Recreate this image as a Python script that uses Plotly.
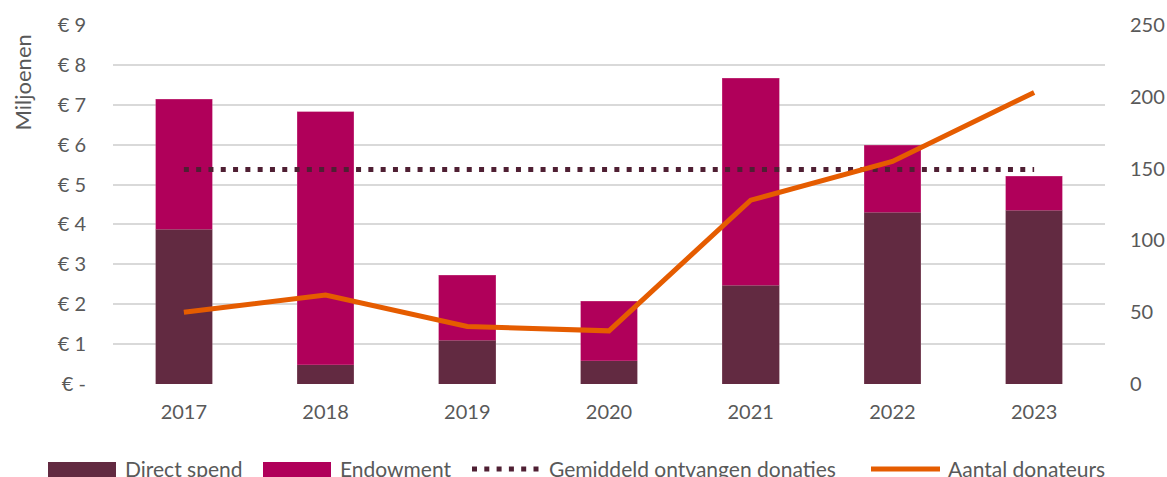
import plotly.graph_objects as go

years = ["2017", "2018", "2019", "2020", "2021", "2022", "2023"]
direct_spend = [3.88, 0.48, 1.10, 0.58, 2.48, 4.31, 4.36]
endowment = [3.26, 6.34, 1.63, 1.50, 5.19, 1.68, 0.85]
gemiddeld = [5.38, 5.38, 5.38, 5.38, 5.38, 5.38, 5.38]
aantal_donateurs = [50, 62, 40, 37, 128, 155, 203]

left_vals = [0, 1, 2, 3, 4, 5, 6, 7, 8, 9]
left_text = ["€ -", "€ 1", "€ 2", "€ 3", "€ 4", "€ 5", "€ 6", "€ 7", "€ 8", "€ 9"]
right_vals = [0, 50, 100, 150, 200, 250]

FONT = "Lato, 'Open Sans', sans-serif"
GREY = "#595959"
C_DIRECT = "#622a41"
C_ENDOW = "#b0005a"
C_AVG = "#4f1f33"
C_ORANGE = "#e55c00"
DOTS = "5px,7.3px"

W, H = 1167, 477
ML, MR, MT, MB = 113, 62, 25, 93
PW, PH = W - ML - MR, H - MT - MB


def px(x):
    # pixel x -> paper coordinate
    return (x - ML) / PW


def py(y):
    # pixel y -> paper coordinate
    return (H - MB - y) / PH


fig = go.Figure()
fig.add_trace(go.Bar(x=years, y=direct_spend, name="Direct spend",
                     marker=dict(color=C_DIRECT, line=dict(color="#8a5a6c", width=0.5))))
fig.add_trace(go.Bar(x=years, y=endowment, name="Endowment",
                     marker=dict(color=C_ENDOW, line=dict(color="#c84a88", width=0.5))))
fig.add_trace(go.Scatter(x=years, y=gemiddeld, name="Gemiddeld ontvangen donaties",
                         mode="lines", line=dict(color=C_AVG, width=5, dash=DOTS)))
fig.add_trace(go.Scatter(x=years, y=aantal_donateurs, name="Aantal donateurs",
                         mode="lines", yaxis="y2",
                         line=dict(color=C_ORANGE, width=5)))

# custom legend (swatches + labels) below the plot
LEG_Y = 468
shapes = [
    dict(type="rect", xref="paper", yref="paper", x0=px(48), x1=px(116),
         y0=py(478), y1=py(462), fillcolor=C_DIRECT, line=dict(width=0)),
    dict(type="rect", xref="paper", yref="paper", x0=px(263), x1=px(331),
         y0=py(478), y1=py(462), fillcolor=C_ENDOW, line=dict(width=0)),
    dict(type="line", xref="paper", yref="paper", x0=px(472), x1=px(540),
         y0=py(LEG_Y + 1), y1=py(LEG_Y + 1), line=dict(color=C_AVG, width=5, dash=DOTS)),
    dict(type="line", xref="paper", yref="paper", x0=px(871), x1=px(940),
         y0=py(LEG_Y + 1), y1=py(LEG_Y + 1), line=dict(color=C_ORANGE, width=5)),
]
legend_labels = [("Direct spend", 123), ("Endowment", 338),
                 ("Gemiddeld ontvangen donaties", 547), ("Aantal donateurs", 946)]
annotations = [dict(text=t, xref="paper", yref="paper", x=px(x0), y=py(LEG_Y),
                    xanchor="left", yanchor="middle", showarrow=False,
                    font=dict(size=21, color=GREY, family=FONT))
               for t, x0 in legend_labels]
annotations.append(dict(text="Miljoenen", xref="paper", yref="paper", x=px(6), y=py(33),
                        xanchor="left", yanchor="top", textangle=-90, showarrow=False,
                        font=dict(size=22, color=GREY, family=FONT)))

fig.update_layout(
    width=W, height=H,
    barmode="stack", bargap=0.6,
    plot_bgcolor="white", paper_bgcolor="white",
    margin=dict(l=ML, r=MR, t=MT, b=MB, autoexpand=False),
    font=dict(family=FONT, size=20, color=GREY),
    showlegend=False,
    xaxis=dict(type="category", showgrid=False, showline=False, ticks="",
               ticklabelstandoff=14, tickfont=dict(size=20, color=GREY)),
    yaxis=dict(range=[0, 9], tickvals=left_vals, ticktext=left_text,
               showgrid=True, gridcolor="#d9d9d9", gridwidth=1.5,
               zeroline=False, showline=False, ticks="",
               ticklabelstandoff=26, tickfont=dict(size=20, color=GREY)),
    yaxis2=dict(range=[0, 250], tickvals=right_vals, overlaying="y", side="right",
                showgrid=False, zeroline=False, showline=False, ticks="",
                ticklabelstandoff=24, tickfont=dict(size=20, color=GREY)),
    shapes=shapes,
    annotations=annotations,
)

fig.write_html("out.html", config={"displayModeBar": False},
               post_script="document.body.style.margin='0';document.body.style.overflow='hidden';")
